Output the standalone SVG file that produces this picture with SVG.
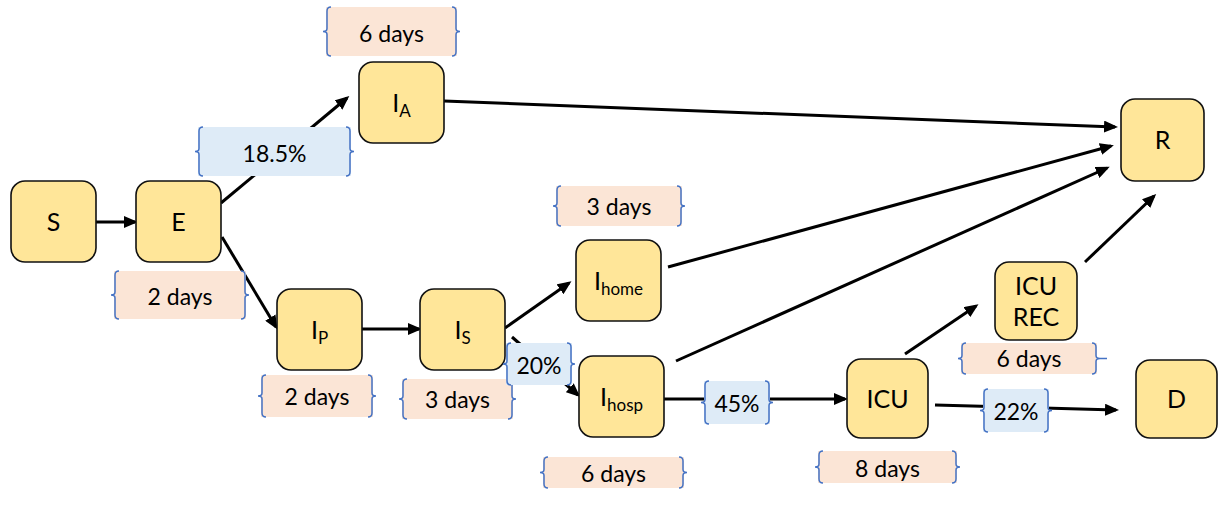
<svg xmlns="http://www.w3.org/2000/svg" width="1219" height="509" viewBox="0 0 1219 509">
<style>
.node rect{fill:#FFE699;stroke:#111;stroke-width:1.6}
.nt{font-family:Lato,"Open Sans",sans-serif;font-size:25px;fill:#000;text-anchor:middle}
.sub{font-size:17px}
.pink{fill:#FBE5D6}
.blue{fill:#DEEBF7}
.br{fill:none;stroke:#4472C4;stroke-width:1.5}
.lt{font-family:Lato,"Open Sans",sans-serif;font-size:23px;fill:#000;text-anchor:middle}
#connectors line{stroke:#000;stroke-width:3;marker-end:url(#ah)}
</style>
<defs>
<marker id="ah" markerUnits="userSpaceOnUse" markerWidth="14" markerHeight="12" viewBox="0 0 14 12" refX="11" refY="6" orient="auto">
<path d="M0,0 L14,6 L0,12 z" fill="#000"/>
</marker>
</defs>
<g id="connectors">
<line x1="96" y1="222" x2="135" y2="222"/>
<line x1="221" y1="203" x2="347" y2="98"/>
<line x1="222" y1="237" x2="276" y2="327"/>
<line x1="362" y1="329" x2="419" y2="329"/>
<line x1="505" y1="328" x2="569" y2="283"/>
<line x1="512" y1="337" x2="578" y2="395"/>
<line x1="664" y1="399" x2="845" y2="399"/>
<line x1="905" y1="354" x2="976" y2="306"/>
<line x1="935" y1="405" x2="1116" y2="410"/>
<line x1="444" y1="101" x2="1115" y2="127"/>
<line x1="668" y1="267" x2="1111" y2="146"/>
<line x1="676" y1="361" x2="1107" y2="168"/>
<line x1="1085" y1="262" x2="1154" y2="196"/>
</g>
<g id="node-S" class="node"><rect x="11" y="181" width="85" height="81" rx="14"/><text class="nt" x="53.5" y="231">S</text></g>
<g id="node-E" class="node"><rect x="136" y="181" width="85" height="81" rx="14"/><text class="nt" x="178.5" y="231">E</text></g>
<g id="node-IA" class="node"><rect x="359" y="62" width="85" height="81" rx="14"/><text class="nt" x="401.5" y="112">I<tspan class="sub" dy="5">A</tspan></text></g>
<g id="node-IP" class="node"><rect x="277" y="289" width="85" height="81" rx="14"/><text class="nt" x="319.5" y="339">I<tspan class="sub" dy="5">P</tspan></text></g>
<g id="node-IS" class="node"><rect x="420" y="289" width="85" height="81" rx="14"/><text class="nt" x="462.5" y="339">I<tspan class="sub" dy="5">S</tspan></text></g>
<g id="node-Ihome" class="node"><rect x="576" y="240" width="85" height="81" rx="14"/><text class="nt" x="618.5" y="290">I<tspan class="sub" dy="5">home</tspan></text></g>
<g id="node-Ihosp" class="node"><rect x="579" y="356" width="85" height="81" rx="14"/><text class="nt" x="621.5" y="406">I<tspan class="sub" dy="5">hosp</tspan></text></g>
<g id="node-ICU" class="node"><rect x="847" y="359" width="81" height="79" rx="14"/><text class="nt" x="887.5" y="408">ICU</text></g>
<g id="node-ICUREC" class="node"><rect x="995" y="262" width="82" height="78" rx="14"/><text class="nt" x="1036" y="295">ICU</text><text class="nt" x="1036" y="326">REC</text></g>
<g id="node-D" class="node"><rect x="1136" y="360" width="81" height="78" rx="14"/><text class="nt" x="1176.5" y="408">D</text></g>
<g id="node-R" class="node"><rect x="1121" y="99" width="83" height="82" rx="14"/><text class="nt" x="1162.5" y="149">R</text></g>

<g id="label-IA-days"><rect class="pink" x="326" y="7" width="131" height="49"/>
<path class="br" d="M331,7 Q327,7 327,11 L327,28.5 Q327,31.5 323,31.5 Q327,31.5 327,34.5 L327,52 Q327,56 331,56"/>
<path class="br" d="M452,7 Q456,7 456,11 L456,28.5 Q456,31.5 460,31.5 Q456,31.5 456,34.5 L456,52 Q456,56 452,56"/>
<text class="lt" x="391.5" y="42">6 days</text></g>

<g id="label-185"><rect class="blue" x="198" y="127" width="153" height="49"/>
<path class="br" d="M203,127 Q199,127 199,131 L199,148.5 Q199,151.5 195,151.5 Q199,151.5 199,154.5 L199,172 Q199,176 203,176"/>
<path class="br" d="M346,127 Q350,127 350,131 L350,148.5 Q350,151.5 354,151.5 Q350,151.5 350,154.5 L350,172 Q350,176 346,176"/>
<text class="lt" x="274.5" y="162">18.5%</text></g>

<g id="label-E-days"><rect class="pink" x="114" y="271" width="132" height="48"/>
<path class="br" d="M119,271 Q115,271 115,275 L115,292 Q115,295 111,295 Q115,295 115,298 L115,315 Q115,319 119,319"/>
<path class="br" d="M241,271 Q245,271 245,275 L245,292 Q245,295 249,295 Q245,295 245,298 L245,315 Q245,319 241,319"/>
<text class="lt" x="180" y="305">2 days</text></g>

<g id="label-IP-days"><rect class="pink" x="261" y="375" width="112" height="42"/>
<path class="br" d="M266,375 Q262,375 262,379 L262,393 Q262,396 258,396 Q262,396 262,399 L262,413 Q262,417 266,417"/>
<path class="br" d="M368,375 Q372,375 372,379 L372,393 Q372,396 376,396 Q372,396 372,399 L372,413 Q372,417 368,417"/>
<text class="lt" x="317" y="405">2 days</text></g>

<g id="label-IS-days"><rect class="pink" x="402" y="379" width="111" height="40"/>
<path class="br" d="M407,379 Q403,379 403,383 L403,396 Q403,399 399,399 Q403,399 403,402 L403,415 Q403,419 407,419"/>
<path class="br" d="M508,379 Q512,379 512,383 L512,396 Q512,399 516,399 Q512,399 512,402 L512,415 Q512,419 508,419"/>
<text class="lt" x="457.5" y="408">3 days</text></g>

<g id="label-Ihome-days"><rect class="pink" x="556" y="186" width="126" height="40"/>
<path class="br" d="M561,186 Q557,186 557,190 L557,203 Q557,206 553,206 Q557,206 557,209 L557,222 Q557,226 561,226"/>
<path class="br" d="M677,186 Q681,186 681,190 L681,203 Q681,206 685,206 Q681,206 681,209 L681,222 Q681,226 677,226"/>
<text class="lt" x="619" y="215">3 days</text></g>

<g id="label-20"><rect class="blue" x="506" y="343" width="66" height="42"/>
<path class="br" d="M511,343 Q507,343 507,347 L507,361 Q507,364 503,364 Q507,364 507,367 L507,381 Q507,385 511,385"/>
<path class="br" d="M567,343 Q571,343 571,347 L571,361 Q571,364 575,364 Q571,364 571,367 L571,381 Q571,385 567,385"/>
<text class="lt" x="539" y="374">20%</text></g>

<g id="label-Ihosp-days"><rect class="pink" x="543" y="457" width="141" height="31"/>
<path class="br" d="M548,457 Q544,457 544,461 L544,469.5 Q544,472.5 540,472.5 Q544,472.5 544,475.5 L544,484 Q544,488 548,488"/>
<path class="br" d="M679,457 Q683,457 683,461 L683,469.5 Q683,472.5 687,472.5 Q683,472.5 683,475.5 L683,484 Q683,488 679,488"/>
<text class="lt" x="613.5" y="482">6 days</text></g>

<g id="label-45"><rect class="blue" x="704" y="381" width="66" height="43"/>
<path class="br" d="M709,381 Q705,381 705,385 L705,399.5 Q705,402.5 701,402.5 Q705,402.5 705,405.5 L705,420 Q705,424 709,424"/>
<path class="br" d="M765,381 Q769,381 769,385 L769,399.5 Q769,402.5 773,402.5 Q769,402.5 769,405.5 L769,420 Q769,424 765,424"/>
<text class="lt" x="737" y="412">45%</text></g>

<g id="label-ICU-days"><rect class="pink" x="818" y="451" width="139" height="32"/>
<path class="br" d="M823,451 Q819,451 819,455 L819,464 Q819,467 815,467 Q819,467 819,470 L819,479 Q819,483 823,483"/>
<path class="br" d="M952,451 Q956,451 956,455 L956,464 Q956,467 960,467 Q956,467 956,470 L956,479 Q956,483 952,483"/>
<text class="lt" x="887.5" y="477">8 days</text></g>

<g id="label-ICUREC-days"><rect class="pink" x="961" y="343" width="136" height="31"/>
<path class="br" d="M966,343 Q962,343 962,347 L962,355.5 Q962,358.5 958,358.5 Q962,358.5 962,361.5 L962,370 Q962,374 966,374"/>
<path class="br" d="M1092,343 Q1096,343 1096,347 L1096,355.5 Q1096,358.5 1100,358.5 L1107,358.5 M1100,358.5 Q1096,358.5 1096,361.5 L1096,370 Q1096,374 1092,374"/>
<text class="lt" x="1029" y="367">6 days</text></g>

<g id="label-22"><rect class="blue" x="983" y="389" width="66" height="43"/>
<path class="br" d="M988,389 Q984,389 984,393 L984,407.5 Q984,410.5 980,410.5 Q984,410.5 984,413.5 L984,428 Q984,432 988,432"/>
<path class="br" d="M1044,389 Q1048,389 1048,393 L1048,407.5 Q1048,410.5 1052,410.5 Q1048,410.5 1048,413.5 L1048,428 Q1048,432 1044,432"/>
<text class="lt" x="1016" y="420">22%</text></g>
</svg>
